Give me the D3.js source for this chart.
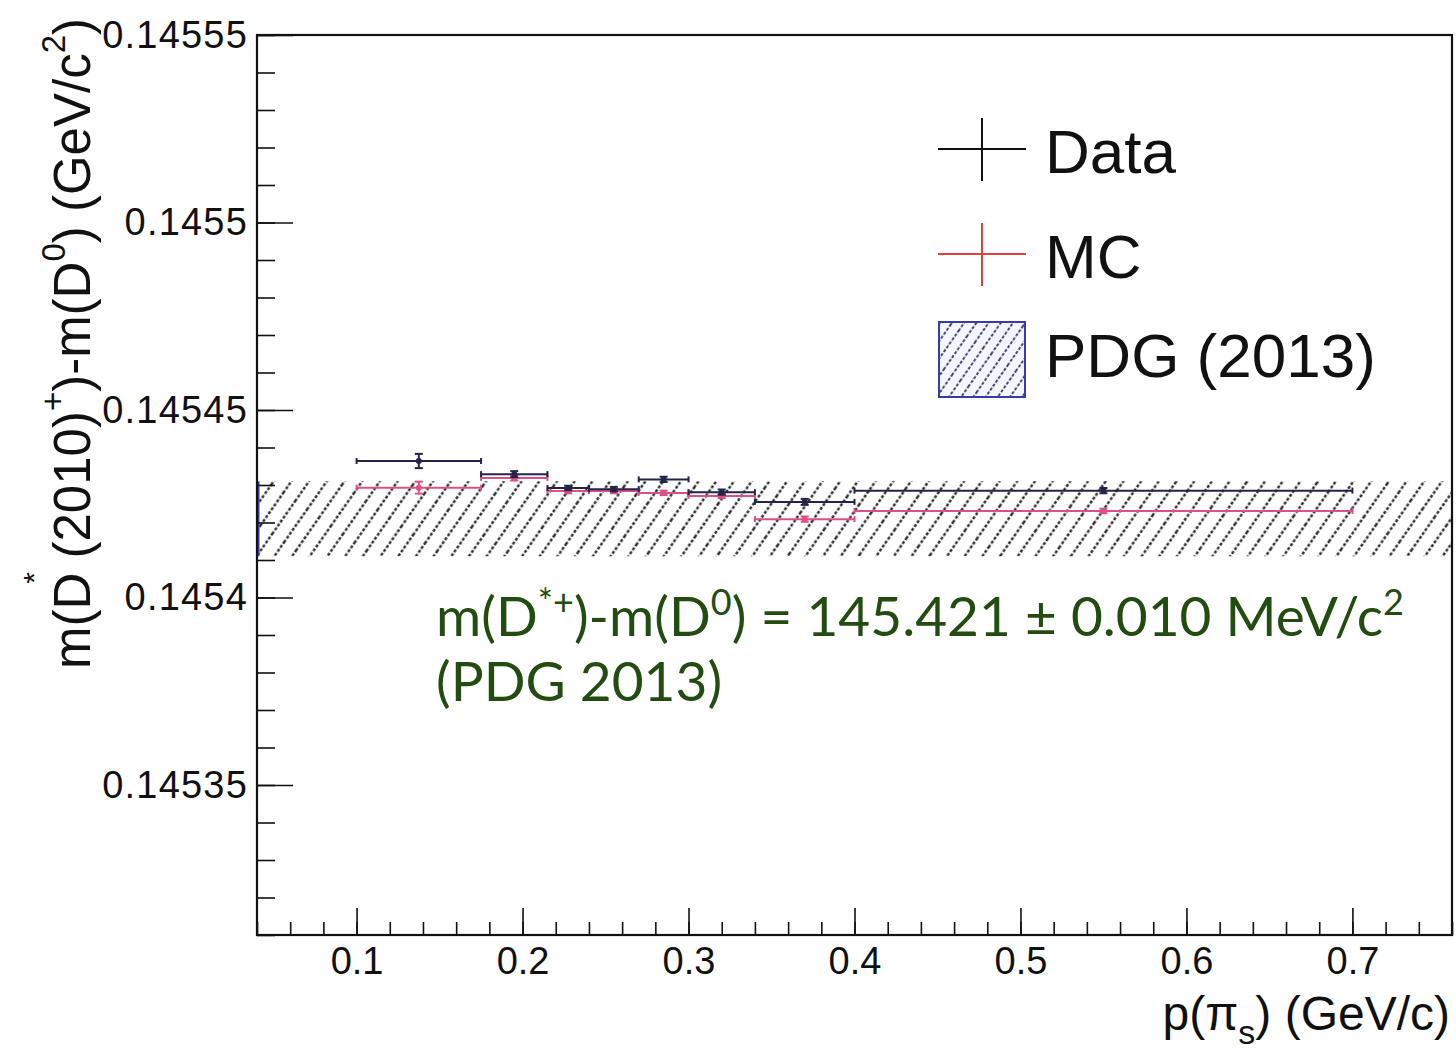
<!DOCTYPE html>
<html>
<head>
<meta charset="utf-8">
<script src="https://cdn.jsdelivr.net/npm/d3@7"></script>
<style>
  html, body { margin: 0; padding: 0; background: #fff; }
</style>
</head>
<body>
<div id="chart"></div>
<script>
// bins in p(pi_s), GeV/c
const binEdges = [0.1, 0.175, 0.215, 0.24, 0.27, 0.30, 0.34, 0.40, 0.70];
// mass difference per bin, GeV/c^2
const dataMass = [0.1454364, 0.1454329, 0.1454292, 0.1454289, 0.1454315, 0.1454281, 0.1454255, 0.1454285];
const dataErr  = [0.0000019, 0.0000008, 0.0000006, 0.0000006, 0.0000007, 0.0000007, 0.0000008, 0.0000007];
const mcMass   = [0.1454293, 0.1454319, 0.1454284, 0.1454284, 0.1454279, 0.1454271, 0.1454209, 0.1454231];
const mcErr    = [0.0000016, 0.0000007, 0.0000006, 0.0000006, 0.0000006, 0.0000006, 0.0000007, 0.0000006];
const pdgMass = 0.145421, pdgErr = 0.000010;

const xTicks = [0.1, 0.2, 0.3, 0.4, 0.5, 0.6, 0.7];
const xMinor = d3.range(0.04, 0.761, 0.02).map(d => +d.toFixed(2));
const yTicks = [0.14535, 0.1454, 0.14545, 0.1455, 0.14555];
const yMinor = d3.range(0.14531, 0.145551, 0.00001).map(d => +d.toFixed(5));

const legendItems = ["Data", "MC", "PDG (2013)"];

const W = 1456, H = 1050;
const pLeft = 257, pRight = 1452, pTop = 35, pBottom = 935;
const helv = "'Liberation Sans', Arial, Helvetica, sans-serif";

const svg = d3.select("#chart").append("svg")
    .attr("width", W)
    .attr("height", H)
    .attr("font-family", helv);

const x = d3.scaleLinear().domain([0.04, 0.76]).range([pLeft, pRight]);
const y = d3.scaleLinear().domain([0.14531, 0.14555]).range([pBottom, pTop]);

// hatch patterns (steep "/" lines)
const defs = svg.append("defs");
function hatch(id, s, color, w) {
    const p = defs.append("pattern")
        .attr("id", id)
        .attr("patternUnits", "userSpaceOnUse")
        .attr("width", s).attr("height", 40)
        .attr("patternTransform", "rotate(35)");
    p.append("line")
        .attr("x1", s / 2).attr("x2", s / 2)
        .attr("y1", 0).attr("y2", 40)
        .attr("stroke", color)
        .attr("stroke-width", w)
        .attr("stroke-dasharray", "3,1.8");
}
hatch("hatchPlot", 14.5, "#1a1a1a", 2.2);
hatch("hatchLeg", 10, "#1a1a50", 1.6);

defs.append("clipPath").attr("id", "frame")
  .append("rect").attr("x", pLeft).attr("y", pTop).attr("width", pRight - pLeft).attr("height", pBottom - pTop);

// PDG band
svg.append("rect")
    .attr("clip-path", "url(#frame)")
    .attr("x", x(0.04))
    .attr("width", x(0.76) - x(0.04))
    .attr("y", y(pdgMass + pdgErr))
    .attr("height", y(pdgMass - pdgErr) - y(pdgMass + pdgErr))
    .attr("fill", "url(#hatchPlot)");
svg.append("line")
    .attr("x1", pLeft + 1.5).attr("x2", pLeft + 1.5)
    .attr("y1", y(pdgMass + pdgErr)).attr("y2", y(pdgMass - pdgErr))
    .attr("stroke", "#4040a0").attr("stroke-width", 2);

// binned points with error bars
function drawSeries(vals, errs, color, width) {
    const bins = vals.map((v, i) => ({ v: v, e: errs[i], x0: binEdges[i], x1: binEdges[i + 1] }));
    const g = svg.append("g")
        .attr("stroke", color)
        .attr("stroke-width", width)
        .attr("fill", "none");
    const b = g.selectAll("g").data(bins).enter().append("g");
    const cx = d => x((d.x0 + d.x1) / 2);
    b.append("line")
        .attr("x1", d => x(d.x0)).attr("x2", d => x(d.x1))
        .attr("y1", d => y(d.v)).attr("y2", d => y(d.v));
    b.append("line")
        .attr("x1", d => x(d.x0)).attr("x2", d => x(d.x0))
        .attr("y1", d => y(d.v) - 3).attr("y2", d => y(d.v) + 3);
    b.append("line")
        .attr("x1", d => x(d.x1)).attr("x2", d => x(d.x1))
        .attr("y1", d => y(d.v) - 3).attr("y2", d => y(d.v) + 3);
    b.append("line")
        .attr("x1", cx).attr("x2", cx)
        .attr("y1", d => y(d.v + d.e)).attr("y2", d => y(d.v - d.e));
    b.append("line")
        .attr("x1", d => cx(d) - 4).attr("x2", d => cx(d) + 4)
        .attr("y1", d => y(d.v + d.e)).attr("y2", d => y(d.v + d.e));
    b.append("line")
        .attr("x1", d => cx(d) - 4).attr("x2", d => cx(d) + 4)
        .attr("y1", d => y(d.v - d.e)).attr("y2", d => y(d.v - d.e));
    b.append("circle")
        .attr("cx", cx)
        .attr("cy", d => y(d.v))
        .attr("r", 3)
        .attr("fill", color)
        .attr("stroke", "none");
}
drawSeries(mcMass, mcErr, "#de4f86", 2);
drawSeries(dataMass, dataErr, "#24244a", 2);

// axes
const axisFont = 38;
svg.append("g")
    .attr("transform", `translate(${pLeft},0)`)
    .call(d3.axisLeft(y).tickValues(yMinor).tickSize(-18).tickFormat(""))
    .call(g => g.select(".domain").remove());
svg.append("g")
    .attr("transform", `translate(${pLeft},0)`)
    .call(d3.axisLeft(y).tickValues(yTicks).tickSize(-36).tickPadding(9)
        .tickFormat(d => String(+d.toFixed(5))))
    .call(g => g.select(".domain").remove())
    .call(g => g.selectAll("text").attr("font-size", axisFont).attr("fill", "#111")
        .attr("font-family", helv).attr("letter-spacing", 1.2));

svg.append("g")
    .attr("transform", `translate(0,${pBottom})`)
    .call(d3.axisBottom(x).tickValues(xMinor).tickSize(-13).tickFormat(""))
    .call(g => g.select(".domain").remove());
svg.append("g")
    .attr("transform", `translate(0,${pBottom})`)
    .call(d3.axisBottom(x).tickValues(xTicks).tickSize(-27).tickPadding(12)
        .tickFormat(d3.format(".1f")))
    .call(g => g.select(".domain").remove())
    .call(g => g.selectAll("text").attr("font-size", axisFont).attr("fill", "#111")
        .attr("font-family", helv));

svg.selectAll(".tick line").attr("stroke", "#111").attr("stroke-width", 1.6);

// frame
svg.append("rect")
    .attr("x", pLeft).attr("y", pTop)
    .attr("width", pRight - pLeft).attr("height", pBottom - pTop)
    .attr("fill", "none").attr("stroke", "#111").attr("stroke-width", 2.2);

// axis titles
const xt = svg.append("text")
    .attr("x", pRight - 2).attr("y", 1030)
    .attr("text-anchor", "end")
    .attr("font-size", 48)
    .attr("fill", "#111");
xt.append("tspan").text("p(\u03c0");
xt.append("tspan").text("s").attr("font-size", 34).attr("dy", 14);
xt.append("tspan").text(") (GeV/c)").attr("dy", -14);

const yt = svg.append("text")
    .attr("transform", "translate(90,18) rotate(-90)")
    .attr("text-anchor", "end")
    .attr("font-size", 51)
    .attr("fill", "#111");
yt.append("tspan").text("m(D");
yt.append("tspan").text(" (2010)");
yt.append("tspan").text("+").attr("font-size", 33).attr("dy", -26);
yt.append("tspan").text(")-m(D").attr("dy", 26);
yt.append("tspan").text("0").attr("font-size", 33).attr("dy", -25);
yt.append("tspan").text(") (GeV/c").attr("dy", 25);
yt.append("tspan").text("2").attr("font-size", 33).attr("dy", -25);
yt.append("tspan").text(")").attr("dy", 25);
// the detached star of D*
svg.append("text")
    .attr("transform", "translate(44,578) rotate(-90)")
    .attr("text-anchor", "middle")
    .attr("font-size", 30)
    .attr("fill", "#111")
    .text("*");

// legend
const lx = 938, lw = 88, textX = 1045;
const leg = svg.append("g");
// Data cross
leg.append("line").attr("x1", lx).attr("x2", lx + lw).attr("y1", 149).attr("y2", 149)
    .attr("stroke", "#111").attr("stroke-width", 2);
leg.append("line").attr("x1", lx + lw / 2).attr("x2", lx + lw / 2).attr("y1", 118).attr("y2", 181)
    .attr("stroke", "#111").attr("stroke-width", 2);
// MC cross
leg.append("line").attr("x1", lx).attr("x2", lx + lw).attr("y1", 254).attr("y2", 254)
    .attr("stroke", "#e2413f").attr("stroke-width", 2);
leg.append("line").attr("x1", lx + lw / 2).attr("x2", lx + lw / 2).attr("y1", 223).attr("y2", 286)
    .attr("stroke", "#e2413f").attr("stroke-width", 2);
// PDG box
leg.append("rect").attr("x", lx + 1).attr("y", 322).attr("width", lw - 2).attr("height", 75)
    .attr("fill", "#f5f5ff");
leg.append("rect").attr("x", lx + 1).attr("y", 322).attr("width", lw - 2).attr("height", 75)
    .attr("fill", "url(#hatchLeg)").attr("stroke", "#3a3aa8").attr("stroke-width", 2);
leg.selectAll("text.leg").data(legendItems).enter().append("text")
    .attr("class", "leg")
    .attr("x", textX)
    .attr("y", (d, i) => [173, 278, 377][i])
    .attr("font-size", 62)
    .attr("fill", "#111")
    .text(d => d);

// PDG annotation
const green = "#234c10";
const annFont = "Lato, 'Open Sans', sans-serif";
const ann = svg.append("text")
    .attr("x", 436).attr("y", 636)
    .attr("font-family", annFont)
    .attr("font-size", 55)
    .attr("fill", green);
ann.append("tspan").text("m(D");
ann.append("tspan").text("*+").attr("font-size", 36).attr("dy", -21);
ann.append("tspan").text(")-m(D").attr("dy", 21);
ann.append("tspan").text("0").attr("font-size", 36).attr("dy", -21);
ann.append("tspan").text(`) = ${(pdgMass * 1000).toFixed(3)} \u00b1 ${(pdgErr * 1000).toFixed(3)} MeV/c`).attr("dy", 21);
ann.append("tspan").text("2").attr("font-size", 36).attr("dy", -21);
svg.append("text")
    .attr("x", 436).attr("y", 701)
    .attr("font-family", annFont)
    .attr("font-size", 55)
    .attr("fill", green)
    .text("(PDG 2013)");
</script>
</body>
</html>
